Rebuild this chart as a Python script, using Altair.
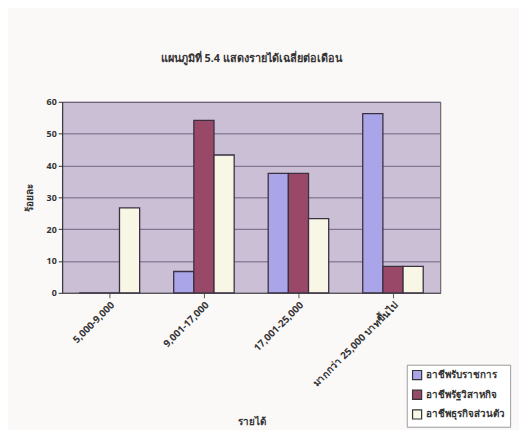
import altair as alt
import pandas as pd

categories = ["5,000-9,000", "9,001-17,000", "17,001-25,000", "มากกว่า 25,000 บาทขึ้นไป"]
series = ["อาชีพรับราชการ", "อาชีพรัฐวิสาหกิจ", "อาชีพธุรกิจส่วนตัว"]
values_s1 = [0, 6.7, 37.5, 56.3]
values_s2 = [0, 54.2, 37.5, 8.3]
values_s3 = [26.7, 43.3, 23.3, 8.3]
colors = ["#a9a5e8", "#9a4868", "#f8f6e4"]

rows = []
for s, vals in zip(series, [values_s1, values_s2, values_s3]):
    for c, v in zip(categories, vals):
        rows.append({"รายได้": c, "กลุ่ม": s, "ร้อยละ": v})
df = pd.DataFrame(rows)

FONT = "Noto Sans"

bars = alt.Chart(df).mark_bar(stroke="#3a3040", strokeWidth=1.3).encode(
    x=alt.X("รายได้:N", sort=categories,
            scale=alt.Scale(paddingInner=0.36, paddingOuter=0.18),
            axis=alt.Axis(title="รายได้", labelAngle=-45, labelFontSize=10,
                          labelFontWeight="bold", labelColor="#333",
                          titleFontSize=10, titleFontWeight="bold",
                          titleColor="#333", titlePadding=28,
                          domainColor="#555", tickColor="#555",
                          labelLimit=200, grid=False)),
    xOffset=alt.XOffset("กลุ่ม:N", sort=series),
    y=alt.Y("ร้อยละ:Q", scale=alt.Scale(domain=[0, 60]),
            axis=alt.Axis(title="ร้อยละ", values=[0, 10, 20, 30, 40, 50, 60],
                          labelFontSize=9, labelFontWeight="bold", labelColor="#333",
                          titleFontSize=10, titleFontWeight="bold", titleColor="#333",
                          titlePadding=12, domainColor="#333", tickColor="#333",
                          tickSize=4, gridColor="#6f6280", gridWidth=1)),
    color=alt.Color("กลุ่ม:N", sort=series,
                    scale=alt.Scale(domain=series, range=colors),
                    legend=alt.Legend(title=None, orient="none", legendX=350, legendY=267,
                                      symbolType="square", symbolSize=85,
                                      symbolStrokeColor="#333", symbolStrokeWidth=1.2,
                                      labelFontSize=10, labelFontWeight="bold",
                                      labelColor="#333", rowPadding=5,
                                      strokeColor="#999", padding=5,
                                      fillColor="#ffffff")),
)

chart = bars.properties(
    width=384, height=194,
    title=alt.TitleParams("แผนภูมิที่ 5.4 แสดงรายได้เฉลี่ยต่อเดือน", fontSize=11,
                          fontWeight="bold", color="#333", offset=34, anchor="middle"),
    autosize=alt.AutoSizeParams(type="none"),
    padding={"left": 55, "top": 92, "right": 80, "bottom": 136},
    background="#fbf8f8",
    view=alt.ViewBackground(fill="#cbbfd6", stroke="#555", strokeWidth=1),
).configure(font=FONT)

chart.save("out.html", embed_options={"renderer": "svg", "actions": False})
